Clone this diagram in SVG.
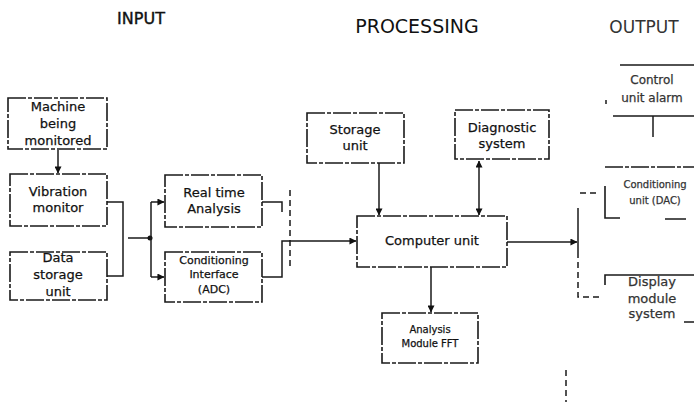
<svg xmlns="http://www.w3.org/2000/svg" width="694" height="402" viewBox="0 0 694 402">
  <defs>
    <marker id="arr" viewBox="0 0 8 8" refX="7.5" refY="4" markerWidth="7" markerHeight="7" markerUnits="userSpaceOnUse" orient="auto-start-reverse">
      <path d="M0,0 L8,4 L0,8 z" fill="#111"/>
    </marker>
  </defs>
  <style>
    .box{fill:none;stroke:#1a1a1a;stroke-width:1.6;stroke-dasharray:18 2 4 2}
    .edge{fill:none;stroke:#1a1a1a;stroke-width:1.6}
    .ln{fill:none;stroke:#1a1a1a;stroke-width:1.5}
    .dash{stroke-dasharray:6 4}
    .dot{fill:#111}
    text{font-family:"DejaVu Sans","Liberation Sans",sans-serif;fill:#111;stroke:#111;stroke-width:0.25;text-anchor:middle}
    .title{stroke-width:0.4}
    .thin{stroke-width:0}
    .t13{font-size:13px}
    .t12{font-size:12px}
    .t11{font-size:11px}
    .t10{font-size:10px}
    .faint{fill:#333;stroke:#333}
  </style>

  <rect width="694" height="402" fill="#fff"/>

  <!-- column headings -->
  <g id="headings">
    <text class="title" x="141" y="24" font-size="16">INPUT</text>
    <text class="thin" x="417" y="33" font-size="19">PROCESSING</text>
    <text class="thin faint" x="644" y="33" font-size="17">OUTPUT</text>
  </g>

  <!-- input column -->
  <g id="machine">
    <rect class="box" x="8" y="98" width="99" height="51"/>
    <text class="t13" x="58" y="111">Machine</text>
    <text class="t13" x="58" y="128">being</text>
    <text class="t13" x="58" y="145">monitored</text>
  </g>
  <g id="vibration-monitor">
    <rect class="box" x="10" y="174" width="97" height="52"/>
    <text class="t13" x="58" y="196">Vibration</text>
    <text class="t13" x="58" y="212">monitor</text>
  </g>
  <g id="data-storage">
    <rect class="box" x="10" y="252" width="97" height="48"/>
    <text class="t13" x="58" y="262">Data</text>
    <text class="t13" x="58" y="279">storage</text>
    <text class="t13" x="58" y="296">unit</text>
  </g>

  <!-- processing column -->
  <g id="real-time">
    <rect class="box" x="165" y="175" width="97" height="52"/>
    <text class="t13" x="214" y="197">Real time</text>
    <text class="t13" x="214" y="213">Analysis</text>
  </g>
  <g id="conditioning">
    <rect class="box" x="165" y="252" width="97" height="50"/>
    <text class="t11" x="214" y="264">Conditioning</text>
    <text class="t11" x="214" y="278">Interface</text>
    <text class="t11" x="214" y="293">(ADC)</text>
  </g>
  <g id="storage-unit">
    <rect class="box" x="307" y="113" width="97" height="50"/>
    <text class="t13" x="355" y="134">Storage</text>
    <text class="t13" x="355" y="150">unit</text>
  </g>
  <g id="diagnostic">
    <rect class="box" x="455" y="110" width="94" height="49"/>
    <text class="t13" x="502" y="132">Diagnostic</text>
    <text class="t13" x="502" y="148">system</text>
  </g>
  <g id="computer">
    <rect class="box" x="357" y="216" width="150" height="51"/>
    <text class="t13" x="432" y="245">Computer unit</text>
  </g>
  <g id="analysis">
    <rect class="box" x="382" y="313" width="96" height="50"/>
    <text class="t10" x="430" y="333">Analysis</text>
    <text class="t10" x="430" y="347">Module FFT</text>
  </g>

  <!-- output column (boxes run past the right edge) -->
  <g id="control-alarm">
    <path class="edge" d="M620,65 H694 M613,116 H694"/>
    <path class="ln dash" d="M606,100 V104"/>
    <text class="t12 faint" x="652" y="84">Control</text>
    <text class="t12 faint" x="652" y="102">unit alarm</text>
  </g>
  <g id="conditioning-dac">
    <path class="box" d="M605,167 H694"/>
    <path class="edge" d="M605,186 V218 H620 M665,219 H686"/>
    <text class="t10 faint" x="655" y="188">Conditioning</text>
    <text class="t10 faint" x="655" y="204">unit (DAC)</text>
  </g>
  <g id="display">
    <path class="edge" d="M605,285 V275 H694 M684,322 H694"/>
    <text class="t13 faint" x="652" y="286">Display</text>
    <text class="t13 faint" x="652" y="303">module</text>
    <text class="t13 faint" x="652" y="318">system</text>
  </g>

  <!-- connectors -->
  <g id="connectors">
    <path class="ln" d="M58,150 V173" marker-end="url(#arr)"/>
    <path class="ln" d="M107,202 H123 V276 H107"/>
    <path class="ln" d="M128,238 H151"/>
    <circle class="dot" cx="150" cy="238" r="2.5"/>
    <path class="ln" d="M151,202 V277"/>
    <path class="ln" d="M151,202 H164" marker-end="url(#arr)"/>
    <path class="ln" d="M151,277 H164" marker-end="url(#arr)"/>
    <path class="ln" d="M262,202 H282 V212"/>
    <path class="ln" d="M262,277 H282 V241 H356" marker-end="url(#arr)"/>
    <path class="ln dash" d="M290,190 V268"/>
    <path class="ln" d="M379,163 V215" marker-end="url(#arr)"/>
    <path class="ln" d="M479,161 V215" marker-start="url(#arr)" marker-end="url(#arr)"/>
    <path class="ln" d="M431,267 V312" marker-end="url(#arr)"/>
    <path class="ln" d="M507,242 H577" marker-end="url(#arr)"/>
    <path class="ln dash" d="M580,193 H600"/>
    <path class="ln" d="M578,208 V252"/>
    <path class="ln dash" d="M578,252 V297 H602"/>
    <path class="ln" d="M653,116 V137"/>
    <path class="ln dash" d="M566,370 V402"/>
  </g>
</svg>
